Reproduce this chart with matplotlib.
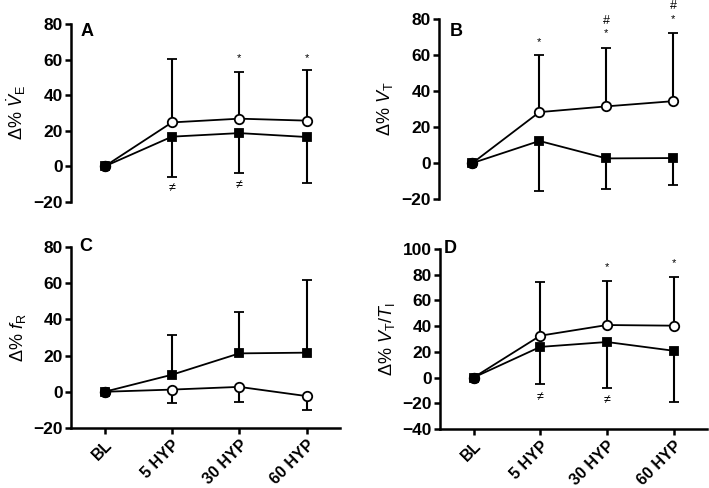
import numpy as np
import matplotlib
matplotlib.use("Agg")
import matplotlib.pyplot as plt

plt.rcParams['font.family'] = ['Liberation Sans', 'DejaVu Sans']
plt.rcParams['mathtext.fontset'] = 'custom'
plt.rcParams['mathtext.rm'] = 'Liberation Sans'
plt.rcParams['mathtext.it'] = 'Liberation Sans:italic'
plt.rcParams['mathtext.bf'] = 'Liberation Sans:bold'

categories = ['BL', '5 HYP', '30 HYP', '60 HYP']

# Panel A: VE
a_open = [0, 24.7, 26.8, 25.7]
a_open_up = [0, 35.4, 26.4, 28.2]
a_fill = [0, 16.7, 18.7, 16.5]
a_fill_dn = [0, 22.9, 22.3, 25.9]

# Panel B: VT
b_open = [0, 28.3, 31.5, 34.4]
b_open_up = [0, 31.5, 32.2, 37.6]
b_fill = [0, 12.3, 2.6, 2.8]
b_fill_dn = [0, 28.0, 17.2, 15.0]

# Panel C: fR
c_open = [0, 1.2, 2.7, -2.4]
c_open_dn = [0, 7.5, 8.6, 7.8]
c_fill = [0, 9.4, 21.2, 21.6]
c_fill_up = [0, 22.2, 22.8, 39.9]

# Panel D: VT/TI
d_open = [0, 32.5, 40.8, 40.3]
d_open_up = [0, 41.5, 34.2, 38.0]
d_fill = [0, 23.8, 27.6, 20.8]
d_fill_dn = [0, 29.0, 36.0, 40.0]

panels = [
    dict(letter='A', lpos=(0.035, 0.955), ylabel=r'$\Delta$% $\dot{V}_{\mathrm{E}}$', ylim=(-20, 80),
         yt=[-20, 0, 20, 40, 60, 80],
         open=a_open, open_err=a_open_up, open_dir='up', fill=a_fill, fill_err=a_fill_dn, fill_dir='dn',
         ann=[(2, 61, '*'), (3, 61, '*'), (1, -12.5, '≠'), (2, -10.5, '≠')],
         rect=[0.100, 0.586, 0.380, 0.365], xaxis=False),
    dict(letter='B', lpos=(0.04, 0.933), ylabel=r'$\Delta$% $V_{\mathrm{T}}$', ylim=(-20, 80),
         yt=[-20, 0, 20, 40, 60, 80],
         open=b_open, open_err=b_open_up, open_dir='up', fill=b_fill, fill_err=b_fill_dn, fill_dir='dn',
         ann=[(1, 67, '*'), (2, 72, '*'), (2, 79, '#'), (3, 80, '*'), (3, 87, '#')],
         rect=[0.619, 0.592, 0.378, 0.369], xaxis=False),
    dict(letter='C', lpos=(0.03, 1.0), ylabel=r'$\Delta$% $f_{\mathrm{R}}$', ylim=(-20, 80),
         yt=[-20, 0, 20, 40, 60, 80],
         open=c_open, open_err=c_open_dn, open_dir='dn', fill=c_fill, fill_err=c_fill_up, fill_dir='up',
         ann=[],
         rect=[0.100, 0.123, 0.380, 0.371], xaxis=True),
    dict(letter='D', lpos=(0.012, 1.0), ylabel=r'$\Delta$% $V_{\mathrm{T}}/T_{\mathrm{I}}$', ylim=(-40, 100),
         yt=[-40, -20, 0, 20, 40, 60, 80, 100],
         open=d_open, open_err=d_open_up, open_dir='up', fill=d_fill, fill_err=d_fill_dn, fill_dir='dn',
         ann=[(2, 86, '*'), (3, 89, '*'), (1, -15, '≠'), (2, -18, '≠')],
         rect=[0.621, 0.121, 0.376, 0.369], xaxis=True),
]

fig = plt.figure(figsize=(7.09, 4.88), dpi=100)
x = np.arange(len(categories))


def draw_series(ax, y, err, direction, marker, mfc, ms, z):
    y = np.asarray(y, float)
    err = np.asarray(err, float)
    zeros = np.zeros_like(err)
    yerr = [zeros, err] if direction == 'up' else [err, zeros]
    line, caps, bars = ax.errorbar(x, y, yerr=yerr, fmt='-', color='black', lw=1.3,
                                   marker=marker, mfc=mfc, mec='black', mew=1.3, ms=ms,
                                   capsize=3.8, capthick=1.5, elinewidth=1.5, zorder=z)
    for c in caps:
        if np.allclose(c.get_ydata(), y):
            c.set_visible(False)


for p in panels:
    ax = fig.add_axes(p['rect'])
    ax.set_xlim(-0.5, 3.5)
    ax.set_ylim(*p['ylim'])
    ax.set_yticks(p['yt'])
    ax.set_yticklabels([('−' + str(-v)) if v < 0 else str(v) for v in p['yt']],
                       fontweight='bold', fontsize=12.5)
    for s in ['top', 'right']:
        ax.spines[s].set_visible(False)
    ax.spines['left'].set_linewidth(1.8)
    ax.tick_params(axis='y', direction='out', length=4, width=1.8, pad=2)
    if p['xaxis']:
        ax.spines['bottom'].set_linewidth(1.8)
        ax.set_xticks(x)
        ax.set_xticklabels(categories, rotation=45, ha='right', rotation_mode='anchor',
                           fontweight='bold', fontsize=11.5)
        ax.tick_params(axis='x', direction='out', length=4, width=1.8, pad=3)
    else:
        ax.spines['bottom'].set_visible(False)
        ax.set_xticks([])

    draw_series(ax, p['open'], p['open_err'], p['open_dir'], 'o', 'white', 6.8, 3)
    draw_series(ax, p['fill'], p['fill_err'], p['fill_dir'], 's', 'black', 6.0, 4)
    # baseline point: both series coincide, shown as a filled dot
    ax.plot(x[:1], p['open'][:1], 'o', ms=6.8, mfc='black', mec='black', mew=1.3, zorder=5)

    for (xi, yi, t) in p['ann']:
        ax.text(xi, yi, t, ha='center', va='center', fontsize=9 if t != '*' else 8)

    ax.text(p['lpos'][0], p['lpos'][1], p['letter'], transform=ax.transAxes, fontsize=13,
            fontweight='bold', ha='left', va='center')
    ax.set_ylabel(p['ylabel'], fontsize=13, labelpad=4)
    ax.patch.set_visible(False)
    for c in ax.get_children():
        if hasattr(c, 'set_clip_on'):
            c.set_clip_on(False)

fig.savefig('out.png', dpi=100)
